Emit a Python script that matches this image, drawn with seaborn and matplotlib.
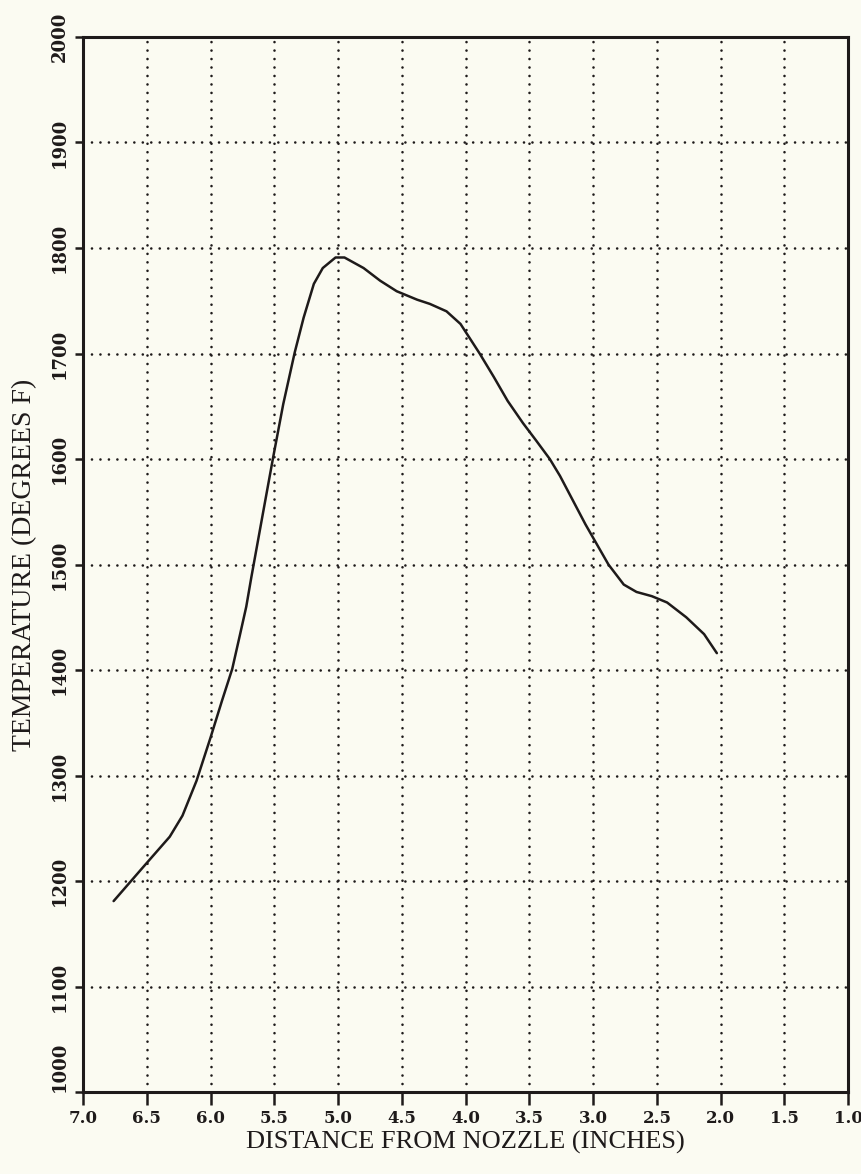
import numpy as np
import matplotlib.pyplot as plt
import seaborn as sns
import pandas as pd

# distance from nozzle (inches) and temperature (deg F)
distance = [6.76, 6.53, 6.32, 6.22, 6.11, 6.00, 5.91, 5.83, 5.77, 5.72, 5.68,
            5.59, 5.51, 5.43, 5.34, 5.27, 5.19, 5.12, 5.02, 4.95, 4.80, 4.67,
            4.54, 4.38, 4.28, 4.15, 4.04, 3.89, 3.78, 3.67, 3.55, 3.45, 3.34,
            3.26, 3.06, 2.88, 2.76, 2.66, 2.54, 2.42, 2.27, 2.13, 2.03]
temperature = [1181, 1213, 1242, 1262, 1295, 1336, 1371, 1401, 1433, 1460, 1488,
               1548, 1601, 1652, 1701, 1734, 1766, 1781, 1791, 1791, 1781, 1769,
               1759, 1751, 1747, 1740, 1728, 1700, 1678, 1655, 1634, 1618, 1600,
               1584, 1538, 1500, 1481, 1474, 1470, 1464, 1450, 1434, 1416]

x_ticks = [7.0, 6.5, 6.0, 5.5, 5.0, 4.5, 4.0, 3.5, 3.0, 2.5, 2.0, 1.5, 1.0]
y_ticks = [1000, 1100, 1200, 1300, 1400, 1500, 1600, 1700, 1800, 1900, 2000]

df = pd.DataFrame({"distance": distance, "temperature": temperature})

sns.set_style("ticks")
paper = "#fbfbf2"
ink = "#1e1a1a"

fig = plt.figure(figsize=(8.62, 11.74), dpi=100, facecolor=paper)
ax = fig.add_axes([0.0963, 0.0698, 0.8877, 0.8987])
ax.set_facecolor(paper)

sns.lineplot(data=df, x="distance", y="temperature", ax=ax, color=ink,
             linewidth=1.8, sort=False, estimator=None)

ax.set_xlim(7.0, 1.0)
ax.set_ylim(1000, 2000)
ax.set_xticks(x_ticks)
ax.set_yticks(y_ticks)
ax.set_xticklabels([f"{v:.1f}" for v in x_ticks], fontsize=12,
                   fontweight="bold", family="DejaVu Serif", color=ink)
ax.set_yticklabels([str(v) for v in y_ticks], fontsize=13, fontweight="bold",
                   family="DejaVu Serif", color=ink, rotation=90, va="center")
# bottom label sits above the corner, like the original
ax.get_yticklabels()[0].set_verticalalignment("bottom")

# dotted grid with round dots
ax.grid(True, color=ink, linestyle=(0, (0.01, 3.2)), linewidth=1.9,
        dash_capstyle="round")
for s in ax.spines.values():
    s.set_color(ink)
    s.set_linewidth(2.2)
ax.tick_params(axis="x", direction="out", length=9, width=1.8, colors=ink, pad=4)
ax.tick_params(axis="y", direction="out", length=6, width=1.8, colors=ink, pad=4)

ax.set_xlabel("DISTANCE FROM NOZZLE (INCHES)", fontsize=19,
              family="Liberation Serif", color=ink, labelpad=3)
ax.set_ylabel("TEMPERATURE (DEGREES F)", fontsize=20,
              family="Liberation Serif", color=ink, labelpad=10)

fig.savefig("out.png", dpi=100, facecolor=paper)
